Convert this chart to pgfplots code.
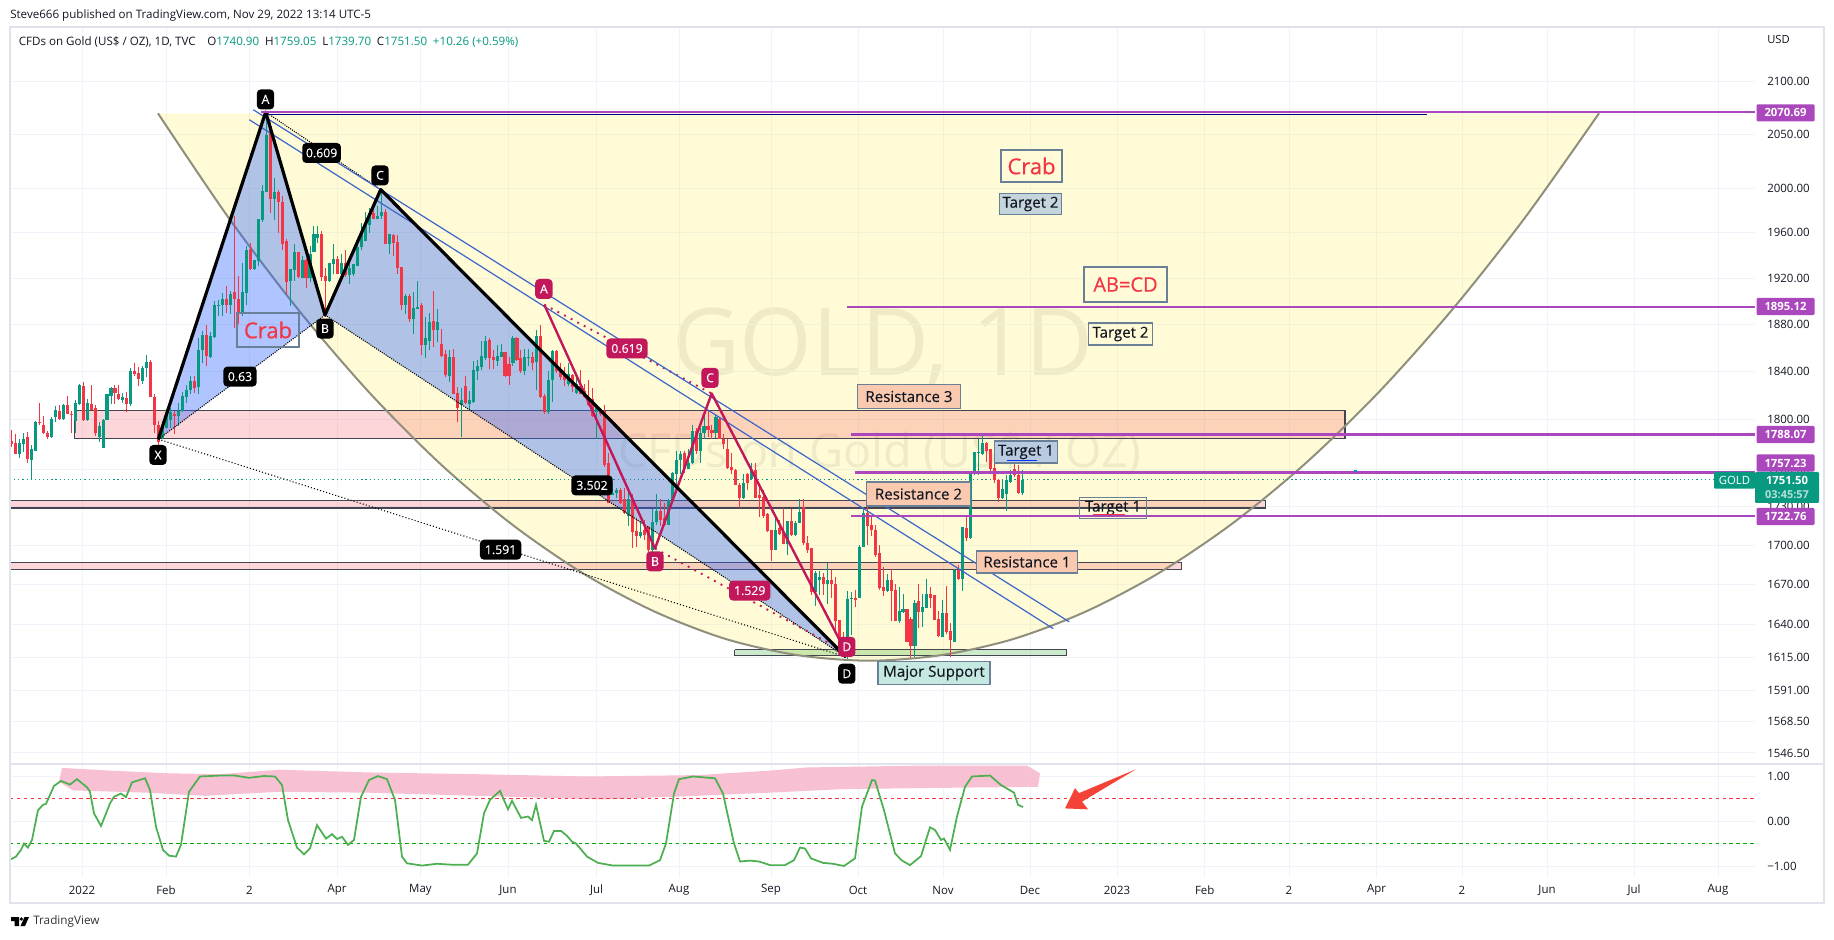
\documentclass[border=0pt]{standalone}
\usepackage{pgfplots}
\usepackage{pgfplotstable}
\usepackage{fontspec}
\setmainfont{Open Sans}
\newfontfamily\boxfont[FakeBold=0.25]{Open Sans}
\newfontfamily\redfont[FakeBold=0.6]{Open Sans}
\pgfplotsset{compat=1.18}
\definecolor{up}{HTML}{089981}
\definecolor{dn}{HTML}{F23645}
\definecolor{pur}{HTML}{AB47BC}
\definecolor{gridc}{HTML}{F0F3FA}
\definecolor{framec}{HTML}{E0E3EB}
\definecolor{txt}{HTML}{131722}
\definecolor{pk}{HTML}{C2185B}
\definecolor{chan}{HTML}{3B66C9}
\definecolor{boxb}{HTML}{6A8096}
\definecolor{yel}{HTML}{FFEB3B}
\definecolor{rectb}{HTML}{434651}
\definecolor{curvec}{HTML}{8F8F7C}
\pgfplotstableread{
i o h l c
0 1783 1792 1778 1780
1 1781 1788 1772 1772
2 1772 1784 1769 1781
3 1780 1789 1774 1784
4 1786 1790 1765 1768
5 1767 1779 1751 1776
6 1775 1799 1775 1798
7 1798 1814 1796 1797
8 1796 1803 1788 1789
9 1789 1791 1784 1786
10 1786 1802 1785 1801
11 1802 1811 1798 1808
12 1807 1812 1800 1801
13 1801 1813 1800 1812
14 1812 1820 1805 1805
15 1805 1807 1789 1804
16 1799 1816 1789 1814
17 1813 1830 1812 1829
18 1828 1831 1799 1800
19 1800 1817 1799 1814
20 1813 1829 1808 1808
21 1810 1812 1787 1789
22 1786 1798 1782 1795
23 1777 1801 1777 1800
24 1800 1821 1800 1821
25 1820 1827 1813 1826
26 1826 1829 1813 1822
27 1821 1829 1816 1817
28 1816 1822 1814 1819
29 1818 1823 1806 1813
30 1813 1843 1811 1840
31 1840 1847 1836 1838
32 1839 1844 1828 1834
33 1832 1845 1830 1843
34 1843 1854 1835 1848
35 1848 1850 1819 1819
36 1819 1821 1789 1796
37 1796 1799 1779 1782
38 1785 1799 1784 1795
39 1793 1809 1793 1805
40 1800 1810 1793 1806
41 1805 1807 1788 1803
42 1803 1814 1795 1807
43 1807 1823 1806 1820
44 1819 1829 1814 1825
45 1825 1836 1821 1832
46 1832 1836 1822 1826
47 1827 1868 1821 1858
48 1858 1874 1847 1871
49 1871 1879 1845 1853
50 1852 1873 1851 1870
51 1869 1900 1868 1897
52 1896 1901 1887 1897
53 1897 1907 1887 1902
54 1902 1913 1890 1897
55 1897 1909 1889 1906
56 1908 1975 1877 1902
57 1902 1922 1880 1889
58 1889 1933 1887 1908
59 1907 1948 1897 1945
60 1946 1951 1927 1928
61 1928 1936 1927 1936
62 1935 1972 1931 1972
63 1971 2003 1970 1998
64 1997 2070.7 1997 2049
65 2058 2061 1978 1991
66 1991 2009 1971 1997
67 1997 1999 1960 1988
68 1988 1993 1945 1950
69 1953 1954 1906 1917
70 1918 1928 1896 1928
71 1927 1950 1918 1943
72 1943 1943 1920 1921
73 1920 1939 1920 1936
74 1936 1938 1911 1920
75 1920 1948 1917 1941
76 1943 1966 1943 1959
77 1956 1966 1951 1959
78 1959 1962 1918 1921
79 1922 1929 1886 1918
80 1918 1933 1917 1933
81 1932 1950 1924 1937
82 1937 1939 1924 1924
83 1924 1941 1920 1933
84 1933 1945 1921 1923
85 1923 1933 1915 1929
86 1924 1932 1922 1932
87 1931 1950 1931 1947
88 1947 1969 1945 1960
89 1953 1979 1953 1968
90 1967 1982 1960 1978
91 1978 1981 1972 1973
92 1972 1984 1972 1975
93 1975 1999 1973 1979
94 1979 1981 1950 1950
95 1950 1959 1941 1959
96 1958 1959 1939 1951
97 1952 1958 1924 1929
98 1930 1930 1892 1897
99 1897 1906 1889 1904
100 1904 1906 1882 1884
101 1884 1908 1872 1894
102 1893 1918 1893 1895
103 1897 1898 1854 1862
104 1862 1886 1851 1868
105 1866 1890 1858 1882
106 1883 1909 1861 1875
107 1875 1893 1865 1882
108 1863 1876 1852 1853
109 1855 1858 1835 1837
110 1836 1858 1831 1852
111 1852 1859 1821 1821
112 1822 1827 1798 1810
113 1812 1826 1786 1816
114 1828 1836 1813 1814
115 1813 1824 1807 1816
116 1815 1849 1814 1841
117 1840 1850 1833 1845
118 1844 1866 1841 1853
119 1851 1870 1850 1866
120 1867 1868 1842 1851
121 1852 1858 1842 1850
122 1849 1862 1845 1853
123 1852 1863 1852 1856
124 1856 1856 1835 1836
125 1846 1852 1829 1836
126 1847 1870 1845 1868
127 1868 1869 1849 1850
128 1851 1858 1839 1840
129 1840 1859 1837 1852
130 1851 1859 1845 1852
131 1852 1856 1841 1847
132 1848 1875 1825 1870
133 1870 1879 1818 1819
134 1820 1821 1805 1806
135 1806 1840 1805 1833
136 1833 1858 1815 1857
137 1857 1858 1839 1840
138 1842 1847 1833 1835
139 1838 1844 1828 1833
140 1830 1847 1828 1838
141 1837 1838 1823 1827
142 1822 1838 1821 1830
143 1828 1841 1821 1821
144 1824 1830 1818 1819
145 1819 1833 1811 1812
146 1817 1826 1802 1803
147 1806 1813 1784 1812
148 1807 1810 1803 1805
149 1807 1812 1762 1763
150 1765 1773 1733 1733
151 1739 1750 1739 1741
152 1741 1745 1737 1743
153 1743 1745 1732 1733
154 1736 1745 1724 1725
155 1723 1745 1715 1736
156 1736 1740 1698 1710
157 1711 1721 1699 1707
158 1707 1719 1706 1710
159 1712 1720 1704 1708
160 1714 1715 1695 1696
161 1696 1728 1680 1718
162 1718 1740 1716 1727
163 1727 1736 1715 1720
164 1721 1733 1715 1716
165 1716 1736 1716 1735
166 1735 1758 1734 1757
167 1756 1775 1745 1767
168 1767 1775 1756 1772
169 1773 1775 1757 1760
170 1760 1776 1760 1765
171 1765 1796 1764 1791
172 1791 1793 1772 1775
173 1775 1793 1765 1789
174 1789 1808 1784 1795
175 1795 1808 1786 1792
176 1792 1796 1784 1789
177 1789 1804 1785 1802
178 1801 1802 1784 1784
179 1784 1788 1776 1780
180 1776 1784 1760 1761
181 1762 1773 1756 1759
182 1759 1760 1747 1747
183 1747 1749 1729 1737
184 1737 1756 1736 1749
185 1756 1757 1743 1749
186 1752 1765 1751 1759
187 1759 1765 1737 1737
188 1739 1748 1722 1737
189 1738 1743 1721 1723
190 1724 1725 1710 1711
191 1712 1712 1688 1696
192 1696 1723 1696 1712
193 1713 1720 1708 1709
194 1710 1729 1701 1701
195 1701 1719 1692 1719
196 1719 1728 1707 1708
197 1708 1719 1707 1717
198 1717 1736 1717 1726
199 1730 1736 1700 1702
200 1702 1707 1694 1696
201 1698 1698 1662 1664
202 1664 1680 1654 1679
203 1673 1680 1662 1676
204 1676 1679 1662 1670
205 1670 1686 1655 1673
206 1673 1681 1660 1670
207 1670 1676 1635 1642
208 1643 1643 1624 1629
209 1628 1634 1617 1618
210 1619 1665 1614 1659
211 1659 1664 1632 1660
212 1660 1666 1653 1658
213 1660 1700 1660 1699
214 1699 1730 1699 1725
215 1725 1730 1700 1715
216 1716 1723 1707 1712
217 1712 1716 1691 1692
218 1694 1700 1666 1667
219 1668 1683 1661 1665
220 1665 1678 1664 1673
221 1673 1682 1642 1665
222 1666 1670 1642 1642
223 1642 1668 1641 1650
224 1649 1663 1648 1651
225 1651 1651 1627 1627
226 1644 1645 1615 1624
227 1624 1658 1616 1656
228 1657 1670 1637 1649
229 1649 1663 1638 1653
230 1652 1674 1652 1663
231 1663 1668 1652 1660
232 1662 1662 1643 1643
233 1644 1650 1630 1631
234 1630 1658 1630 1648
235 1648 1669 1633 1634
236 1635 1641 1616 1628
237 1627 1682 1627 1681
238 1681 1685 1673 1674
239 1674 1714 1665 1714
240 1713 1723 1703 1706
241 1706 1756 1705 1756
242 1756 1774 1755 1774
243 1773 1784 1755 1774
244 1772 1788 1771 1781
245 1781 1782 1766 1775
246 1776 1776 1756 1760
247 1761 1769 1749 1751
248 1751 1752 1734 1737
249 1737 1751 1736 1744
250 1740 1755 1727 1751
251 1750 1759 1749 1755
252 1760 1765 1754 1755
253 1755 1763 1740 1741
254 1740.90 1759.05 1739.70 1751.50
}\candles
\pgfplotstableread{
x v
11 -0.85
16 -0.79
21 -0.64
24 -0.50
28 -0.59
32 -0.42
38 0.24
43 0.36
46 0.38
54 0.78
61 0.89
70 0.81
77 0.93
87 0.75
90 0.65
94 0.17
101 -0.11
110 0.39
114 0.54
121 0.61
126 0.53
132 0.86
145 0.95
150 0.69
156 -0.13
163 -0.64
169 -0.77
176 -0.79
181 -0.53
189 0.65
200 0.99
220 1.01
235 1.01
249 0.96
264 1.00
275 0.99
282 0.80
288 0.02
297 -0.59
304 -0.74
310 -0.61
317 -0.09
326 -0.39
332 -0.29
337 -0.40
342 -0.35
348 -0.53
354 -0.42
361 0.54
369 0.91
378 1.00
387 0.93
395 0.47
402 -0.79
407 -0.94
422 -0.99
437 -0.95
451 -0.97
468 -0.97
477 -0.72
484 0.17
490 0.47
500 0.67
508 0.26
512 0.45
521 0.07
528 0.10
532 0.02
536 0.36
544 -0.44
549 -0.46
554 -0.22
561 -0.22
567 -0.33
572 -0.46
576 -0.50
587 -0.79
598 -0.93
613 -0.99
649 -0.99
660 -0.87
666 -0.50
674 0.61
679 0.93
693 0.99
715 0.95
723 0.61
734 -0.50
740 -0.90
750 -0.88
759 -0.90
770 -0.98
785 -0.98
794 -0.87
800 -0.59
805 -0.61
811 -0.83
823 -0.93
833 -0.95
844 -1.00
855 -0.83
862 0.32
872 0.91
875 0.90
884 0.24
895 -0.72
902 -0.88
910 -0.98
921 -0.78
930 -0.14
935 -0.20
941 -0.42
944 -0.39
950 -0.64
957 0.10
965 0.76
972 0.99
990 1.01
1001 0.80
1014 0.63
1018 0.36
1023 0.31
}\stoch
\newcommand{\candle}[2]{%
\addplot[draw=none,forget plot,error bars/.cd,y dir=plus,y explicit,error mark=none,error bar style={line width=.75pt,draw=#2}]
 table[x expr={11.5+3.98*\thisrow{i}},y expr={(#1)?\thisrow{l}:nan},y error plus expr={\thisrow{h}-\thisrow{l}}]{\candles};
\addplot[draw=none,forget plot,error bars/.cd,y dir=plus,y explicit,error mark=none,error bar style={line width=2.3pt,draw=#2}]
 table[x expr={11.5+3.98*\thisrow{i}},y expr={(#1)?min(\thisrow{o},\thisrow{c}):nan},y error plus expr={abs(\thisrow{c}-\thisrow{o})}]{\candles};
}
\tikzset{
 blk/.style={fill=black,text=white,rounded corners=3pt,inner sep=0pt,minimum height=15pt,font=\boxfont\fontsize{9.2}{10}\selectfont,align=center},
 pnk/.style={fill=pk,text=white,rounded corners=3pt,inner sep=0pt,minimum height=15pt,font=\boxfont\fontsize{9.2}{10}\selectfont,align=center},
 tag/.style={fill=pur,text=white,inner sep=0pt,minimum width=43.5pt,minimum height=12.8pt,font=\fontsize{8.5}{9}\selectfont\bfseries,rounded corners=.8pt},
 tb/.style={draw=boxb,line width=.9pt,inner sep=0pt,text=txt,font=\boxfont\fontsize{11.3}{12}\selectfont},
 rd/.style={tb,line width=1.6pt,text=dn},
}
\begin{document}
\begin{tikzpicture}
\fill[white] (0,0) rectangle (1375.5pt,704.25pt);
\begin{scope}[x=.75pt,y=-.75pt,yshift=704.25pt]
\node[text=black!60,text opacity=.13,font=\fontsize{70}{80}\selectfont] at (883,348) {GOLD, 1D};
\node[text=black!60,text opacity=.13,font=\fontsize{35}{40}\selectfont] at (880,453) {CFDs on Gold (US\$ / OZ)};
\end{scope}
\begin{axis}[
 at={(7.5pt,131.25pt)},anchor=south west,scale only axis,width=1308.75pt,height=552.75pt,
 xmin=10,xmax=1755,ymode=log,ymin=1538.9,ymax=2152.7,
 axis line style={draw=none},major tick length=0pt,no markers,
 grid=major,major grid style={gridc,line width=.75pt},
 xtick={82,166,249.5,337,420.4,508,596.5,679,771,858,943,1030,1117,1204.7,1289,1376.6,1462,1547,1634,1718},
 xticklabels={},
 ytick={2100,2050,2000,1960,1920,1880,1840,1800,1760,1730,1700,1670,1640,1615,1591,1568.5,1546.5},
 yticklabels={2100.00,2050.00,2000.00,1960.00,1920.00,1880.00,1840.00,1800.00,1760.00,1730.00,1700.00,1670.00,1640.00,1615.00,1591.00,1568.50,1546.50},
 ytick pos=right,yticklabel pos=right,
 yticklabel style={anchor=west,inner sep=0pt,xshift=9pt,font=\fontsize{8.6}{10}\selectfont,text=txt},
 clip=true,
]
% yellow curve zone
\addplot[fill=yel,fill opacity=.2,draw=none] coordinates {(158,2069.5)(228.3,1973.8)(298.8,1891.9)(369.5,1822.4)(440.3,1764.3)(511.3,1716.5)(582.5,1678.5)(654,1649.6)(725.5,1629)(797.3,1617)(869.3,1612.9)(941.4,1617)(1013.7,1629)(1086.3,1649.6)(1158.9,1678.5)(1231.8,1716.5)(1304.9,1764.3)(1378.2,1822.4)(1451.6,1891.9)(1525.2,1973.8)(1599,2069.5)};
% rectangles
\addplot[fill=dn,fill opacity=.2,draw=none] coordinates {(74.3,1807.8)(1345,1807.8)(1345,1784.3)(74.3,1784.3)};
\addplot[fill=dn,fill opacity=.2,draw=none] coordinates {(10,1734.6)(1265.5,1734.6)(1265.5,1729)(10,1729)};
\addplot[fill=dn,fill opacity=.2,draw=none] coordinates {(10,1686.4)(1181.5,1686.4)(1181.5,1681.6)(10,1681.6)};
\addplot[fill=green!60!black,fill opacity=.2,draw=none] coordinates {(734.5,1621)(1066.7,1621)(1066.7,1616.8)(734.5,1616.8)};
% rectangle borders
\addplot[draw=rectb,line width=.85pt] coordinates {(74.3,1807.8)(1345,1807.8)(1345,1784.3)(74.3,1784.3)(74.3,1807.8)};
\addplot[draw=rectb,line width=.85pt] coordinates {(10,1734.6)(1265.5,1734.6)(1265.5,1729)(10,1729)};
\addplot[draw=rectb,line width=.85pt] coordinates {(10,1686.4)(1181.5,1686.4)(1181.5,1681.6)(10,1681.6)};
\addplot[draw=rectb,line width=.8pt] coordinates {(734.5,1621)(1066.7,1621)(1066.7,1616.8)(734.5,1616.8)(734.5,1621)};
% curve edge
\addplot[draw=curvec,line width=1.5pt,smooth] coordinates {(158,2069.5)(228.3,1973.8)(298.8,1891.9)(369.5,1822.4)(440.3,1764.3)(511.3,1716.5)(582.5,1678.5)(654,1649.6)(725.5,1629)(797.3,1617)(869.3,1612.9)(941.4,1617)(1013.7,1629)(1086.3,1649.6)(1158.9,1678.5)(1231.8,1716.5)(1304.9,1764.3)(1378.2,1822.4)(1451.6,1891.9)(1525.2,1973.8)(1599,2069.5)};
% current price
\addplot[draw=up,line width=.9pt,dash pattern=on .9pt off 2.2pt] coordinates {(10,1751.5)(1714,1751.5)};
% XABCD fills
\addplot[fill={rgb,255:red,41;green,98;blue,255},fill opacity=.37,draw=none] coordinates {(158.3,1784)(265.7,2070.7)(325,1888)};
\addplot[fill={rgb,255:red,41;green,98;blue,255},fill opacity=.37,draw=none] coordinates {(325,1888)(380.7,1999)(846,1615.6)};
% candles
\candle{\thisrow{c}>=\thisrow{o}}{up}
\candle{\thisrow{c}<\thisrow{o}}{dn}
% dotted black
\addplot[draw=black,line width=.8pt,dash pattern=on .8pt off .9pt] coordinates {(158.3,1784)(325,1888)};
\addplot[draw=black,line width=.8pt,dash pattern=on .8pt off .9pt] coordinates {(265.7,2070.7)(380.7,1999)};
\addplot[draw=black,line width=.8pt,dash pattern=on .8pt off .9pt] coordinates {(325,1888)(846,1615.6)};
\addplot[draw=black,line width=.8pt,dash pattern=on .8pt off 1.6pt] coordinates {(158.3,1784)(846,1615.6)};
% pink dotted
\addplot[draw=pk,line width=1.4pt,dash pattern=on 1.4pt off 4.2pt] coordinates {(544.3,1897)(711.7,1821.7)};
\addplot[draw=pk,line width=1.4pt,dash pattern=on 1.4pt off 4.2pt] coordinates {(655,1697.5)(846,1619)};
% channel and top line
\addplot[draw=chan,line width=.9pt] coordinates {(253.3,2072.8)(1069.3,1641.6)};
\addplot[draw=chan,line width=.9pt] coordinates {(249.3,2063.4)(1053.3,1636.6)};
\addplot[draw=blue!55!black,line width=.9pt] coordinates {(266.7,2068.5)(1427,2068.5)};
% ABCD pink
\addplot[draw=pk,line width=1.8pt,line join=round] coordinates {(544.3,1897)(655,1697.5)(711.7,1821.7)(846,1619)};
% XABCD black
\addplot[draw=black,line width=2.4pt,line join=round] coordinates {(158.3,1784)(265.7,2070.7)(325,1888)(380.7,1999)(846,1615.6)};
% purple levels
\addplot[draw=pur,line width=1.7pt] coordinates {(261,2070.69)(1755,2070.69)};
\addplot[draw=pur,line width=1.7pt] coordinates {(847,1895.12)(1755,1895.12)};
\addplot[draw=pur,line width=1.7pt] coordinates {(851,1788.07)(1755,1788.07)};
\addplot[draw=pur,line width=1.7pt] coordinates {(854.7,1757.23)(1755,1757.23)};
\addplot[draw=pur,line width=1.7pt] coordinates {(851,1722.76)(1755,1722.76)};
% small pen marks
\addplot[draw=cyan!70!blue,line width=1.4pt] coordinates {(1354,1758.5)(1357,1758.5)};
\end{axis}
\begin{axis}[
 at={(7.5pt,46.5pt)},anchor=south west,scale only axis,width=1308.75pt,height=84.75pt,
 xmin=10,xmax=1755,ymin=-1.244,ymax=1.267,
 axis line style={draw=none},major tick length=0pt,no markers,
 grid=major,major grid style={gridc,line width=.75pt},
 xtick={82,166,249.5,337,420.4,508,596.5,679,771,858,943,1030,1117,1204.7,1289,1376.6,1462,1547,1634,1718},
 xticklabels={2022,Feb,2,Apr,May,Jun,Jul,Aug,Sep,Oct,Nov,Dec,2023,Feb,2,Apr,2,Jun,Jul,Aug},
 xticklabel style={anchor=center,inner sep=0pt,yshift=-9.75pt,font=\fontsize{8.6}{10}\selectfont,text=txt},
 ytick={-1,0,1},yticklabels={−1.00,0.00,1.00},
 ytick pos=right,yticklabel pos=right,
 yticklabel style={anchor=west,inner sep=0pt,xshift=9pt,font=\fontsize{8.6}{10}\selectfont,text=txt},
]
\addplot[fill={rgb,255:red,248;green,192;blue,211},draw=none] coordinates {(62,1.18)(110,1.12)(169,1.06)(220,1.04)(279,1.14)(367,1.08)(477,1.04)(587,.99)(697,1.02)(770,1.12)(807,1.19)(917,1.23)(1027,1.23)(1040,1.06)(1038,.76)(954,.74)(844,.71)(770,.63)(697,.56)(602,.48)(477,.56)(367,.63)(279,.65)(205,.56)(147,.63)(73,.68)(59,.87)};
\addplot[draw=dn,line width=.8pt,dash pattern=on 2.6pt off 2.6pt] coordinates {(10,.5)(1755,.5)};
\addplot[draw=green!65!black,line width=.8pt,dash pattern=on 2.6pt off 2.6pt] coordinates {(10,-.5)(1755,-.5)};
\addplot[draw={rgb,255:red,76;green,175;blue,80},line width=1.3pt] table[x=x,y=v]{\stoch};
\addplot[fill={rgb,255:red,244;green,67;blue,54},draw=none] coordinates {(1136,1.15)(1079,.62)(1075,.73)(1065,.28)(1088,.26)(1082,.43)};
\end{axis}
\begin{scope}[x=.75pt,y=-.75pt,yshift=704.25pt]
% frame
\draw[framec,line width=1.5pt] (10,27) rectangle (1824,903);
\draw[framec,line width=1.5pt] (10,764) -- (1824,764);
% header
\node[anchor=west,inner sep=0pt,text=txt,font=\fontsize{8.7}{10}\selectfont] at (10,15) {Steve666 published on TradingView.com, Nov 29, 2022 13:14 UTC-5};
\node[anchor=west,inner sep=0pt,text=txt,font=\fontsize{8.7}{10}\selectfont] at (18.5,42.5) {CFDs on Gold (US\$ / OZ), 1D, TVC\quad O\textcolor{up}{1740.90}\enspace H\textcolor{up}{1759.05}\enspace L\textcolor{up}{1739.70}\enspace C\textcolor{up}{1751.50}\enspace\textcolor{up}{+10.26 (+0.59\%)}};
\node[anchor=west,inner sep=0pt,text=txt,font=\fontsize{8.4}{10}\selectfont] at (1767,40) {USD};
% footer
\fill[black] (11,917) -- (19,917) -- (19,926) -- (14.5,926) -- (14.5,921) -- (11,921) -- cycle;
\fill[black] (21.3,919) circle (1.8);
\fill[black] (24.5,917) -- (29,917) -- (25,926) -- (20.5,926) -- cycle;
\node[anchor=west,inner sep=0pt,text=black!80,font=\fontsize{8.8}{10}\selectfont] at (33,921.7) {TradingView};
% price tags
\node[tag] at (1785.5,112.8) {2070.69};
\node[tag] at (1785.5,306.5) {1895.12};
\node[tag] at (1785.5,434.5) {1788.07};
\node[tag] at (1785.5,463) {1757.23};
\node[tag] at (1785.5,516.5) {1722.76};
\node[fill=up,text=white,inner sep=0pt,minimum width=30.7pt,minimum height=12.5pt,font=\fontsize{8.5}{9}\selectfont,rounded corners=.8pt] at (1734.5,480.3) {GOLD};
\fill[up,rounded corners=.8pt] (1755,472) rectangle (1819,503);
\node[text=white,inner sep=0pt,font=\fontsize{8.5}{9}\selectfont\bfseries] at (1787,480.5) {1751.50};
\node[text=white!70!up,inner sep=0pt,font=\fontsize{8.2}{9}\selectfont\bfseries] at (1787,494.5) {03:45:57};
% pattern labels
\node[blk,minimum width=13pt] at (265.5,99.4) {A};
\node[blk,minimum width=13pt] at (380,175.4) {C};
\node[blk,minimum width=13pt] at (325,328.6) {B};
\node[blk,minimum width=13pt] at (158,455) {X};
\node[pnk,minimum width=13pt] at (543.9,289) {A};
\node[pnk,minimum width=13pt] at (710,377.8) {C};
\node[pnk,minimum width=13pt] at (655,561.4) {B};
\node[pnk,minimum width=13pt] at (846.8,646.8) {D};
\node[blk,minimum width=13pt] at (846.8,673.7) {D};
\node[blk,minimum width=29pt] at (321.6,153) {0.609};
\node[blk,minimum width=25pt] at (240,376.6) {0.63};
\node[blk,minimum width=31pt] at (592,485.4) {3.502};
\node[blk,minimum width=31pt] at (500.6,549.7) {1.591};
\node[pnk,minimum width=31pt] at (627,348.5) {0.619};
\node[pnk,minimum width=31pt] at (749.7,590.6) {1.529};
% text boxes
\node[rd,minimum width=46.5pt,minimum height=26pt,font=\redfont\fontsize{16.5}{20}\selectfont] at (268,330) {Crab};
\node[rd,minimum width=45.7pt,minimum height=24.4pt,font=\redfont\fontsize{16.5}{20}\selectfont,fill={rgb,255:red,255;green,251;blue,216}] at (1031.5,166) {Crab};
\node[rd,minimum width=62pt,minimum height=26pt,font=\redfont\fontsize{15}{20}\selectfont,fill={rgb,255:red,255;green,251;blue,216}] at (1125.5,284.5) {AB=CD};
\node[tb,minimum width=47pt,minimum height=16pt,fill={rgb,255:red,197;green,213;blue,222}] at (1030.5,204) {Target 2};
\node[tb,minimum width=48.5pt,minimum height=16.5pt] at (1120.5,334) {Target 2};
\node[tb,minimum width=77pt,minimum height=17.5pt,fill={rgb,255:red,250;green,202;blue,176}] at (909,396.5) {Resistance 3};
\node[tb,minimum width=47pt,minimum height=16.5pt,fill={rgb,255:red,185;green,203;blue,225}] at (1026,452) {Target 1};
\draw[blue!80!cyan,line width=.8pt] (1006.7,460.7) -- (1037.3,460.7);
\node[tb,minimum width=78pt,minimum height=18pt,fill={rgb,255:red,250;green,202;blue,176}] at (918.5,494) {Resistance 2};
\node[tb,minimum width=50pt,minimum height=16pt] at (1113,508) {Target 1};
\draw[dn,line width=.8pt] (1093,514.3) -- (1125,514.3);
\node[tb,minimum width=75.5pt,minimum height=16.5pt,fill={rgb,255:red,250;green,202;blue,176}] at (1027,562) {Resistance 1};
\node[tb,minimum width=84pt,minimum height=17.5pt,fill={rgb,255:red,197;green,232;blue,224}] at (934,673) {Major Support};
\end{scope}
\end{tikzpicture}
\end{document}
